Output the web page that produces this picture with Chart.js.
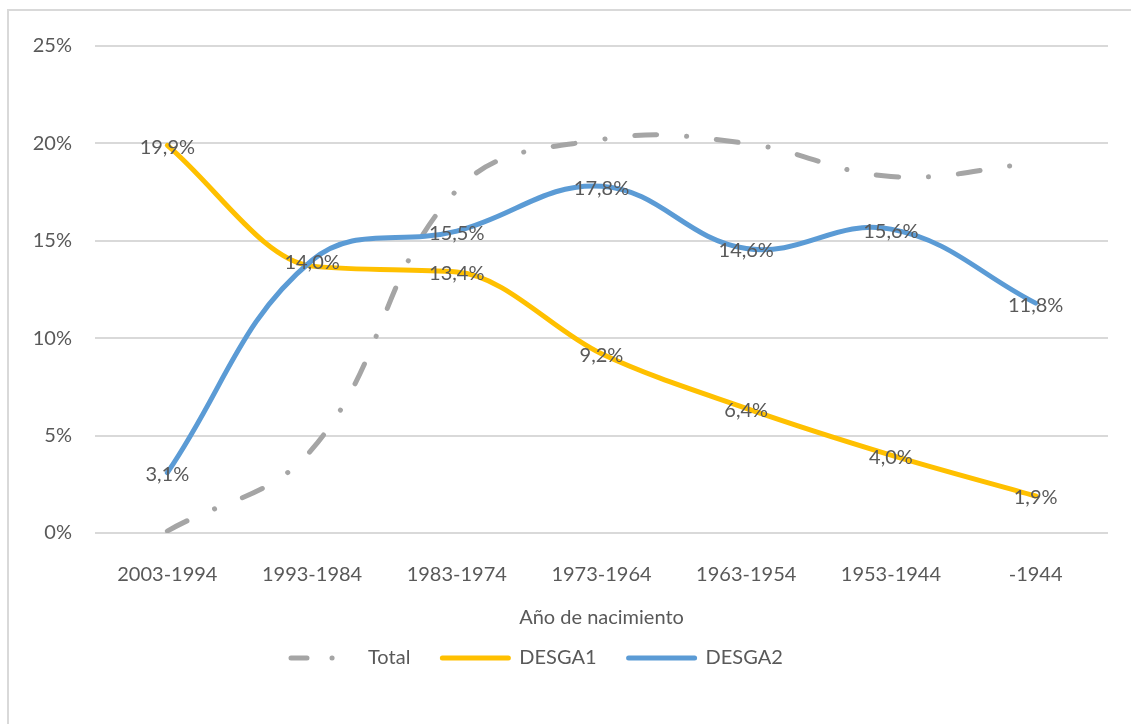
<!DOCTYPE html>
<html lang="es">
<head>
<meta charset="utf-8">
<script src="https://cdn.jsdelivr.net/npm/chart.js@4.4.1/dist/chart.umd.min.js"></script>
<style>
    html, body { margin: 0; padding: 0; background: #fff; overflow: hidden; }
    #marco {
        position: absolute; left: 7px; top: 9px; width: 1200px; height: 800px;
        border-left: 2px solid #d9d9d9; border-top: 2px solid #d9d9d9;
    }
    #grafico { position: absolute; left: 0; top: 0; }
</style>
</head>
<body>
<div id="marco"></div>
<canvas id="grafico" width="1131" height="724"></canvas>
<script>
const categorias = ["2003-1994", "1993-1984", "1983-1974", "1973-1964", "1963-1954", "1953-1944", "-1944"];
const total = [0.1, 4.3, 17.6, 20.2, 20.0, 18.3, 19.0];
const desga1 = [19.9, 13.7, 13.4, 9.2, 6.4, 4.0, 1.9];
const desga2 = [3.1, 14.0, 15.5, 17.8, 14.6, 15.6, 11.8];
const ticksY = [0, 5, 10, 15, 20, 25];

const GRIS_TEXTO = "#595959";
const FUENTE = "Lato";

function formato(v) {
    return v.toFixed(1).replace(".", ",") + "%";
}

// etiquetas de datos centradas sobre cada punto
const etiquetas = {
    id: "etiquetas",
    afterDatasetsDraw(chart) {
        const ctx = chart.ctx;
        ctx.save();
        ctx.font = `20px ${FUENTE}`;
        ctx.fillStyle = GRIS_TEXTO;
        ctx.textAlign = "center";
        ctx.textBaseline = "middle";
        chart.data.datasets.forEach((ds, i) => {
            if (!ds.conEtiquetas) return;
            const meta = chart.getDatasetMeta(i);
            meta.data.forEach((p, j) => {
                if ((ds.sinEtiqueta || []).includes(j)) return;
                ctx.fillText(formato(ds.data[j]), p.x, p.y + 2);
            });
        });
        ctx.restore();
    }
};

// leyenda abajo, como en Excel
const leyenda = {
    id: "leyenda",
    afterDraw(chart) {
        const ctx = chart.ctx;
        const muestra = 72, hueco = 8, sep = 29;
        let x = 288;
        const y = 658;
        ctx.save();
        ctx.font = `20px ${FUENTE}`;
        chart.data.datasets.forEach(ds => {
            ctx.beginPath();
            ctx.strokeStyle = ds.borderColor;
            ctx.lineWidth = ds.borderWidth;
            ctx.lineCap = "round";
            ctx.setLineDash(ds.dashLeyenda || []);
            ctx.moveTo(x + 3, y);
            ctx.lineTo(x + muestra - 3, y);
            ctx.stroke();
            ctx.setLineDash([]);
            ctx.fillStyle = GRIS_TEXTO;
            ctx.textAlign = "left";
            ctx.textBaseline = "middle";
            ctx.fillText(ds.label, x + muestra + hueco, y);
            x += muestra + hueco + ctx.measureText(ds.label).width + sep;
        });
        ctx.restore();
    }
};

new Chart(document.getElementById("grafico"), {
    type: "line",
    data: {
        labels: categorias,
        datasets: [
            {
                label: "Total", data: total, order: 3,
                borderColor: "#a5a5a5", borderWidth: 5,
                borderDash: [22, 30, 0.1, 30], borderCapStyle: "round",
                dashLeyenda: [16, 25, 0.1, 40],
                pointRadius: 0, tension: 0.4, fill: false
            },
            {
                label: "DESGA1", data: desga1, order: 2,
                borderColor: "#ffc000", borderWidth: 5, borderCapStyle: "round",
                cubicInterpolationMode: "monotone",
                pointRadius: 0, tension: 0.4, fill: false,
                conEtiquetas: true, sinEtiqueta: [1]
            },
            {
                label: "DESGA2", data: desga2, order: 1,
                borderColor: "#5b9bd5", borderWidth: 5, borderCapStyle: "round",
                pointRadius: 0, tension: 0.4, fill: false,
                conEtiquetas: true
            }
        ]
    },
    options: {
        responsive: false,
        animation: false,
        layout: { padding: { top: 46, right: 23, bottom: 84, left: 0 } },
        plugins: {
            legend: { display: false },
            tooltip: { enabled: false }
        },
        scales: {
            x: {
                offset: true,
                grid: { display: false },
                border: { display: false },
                ticks: { color: GRIS_TEXTO, font: { family: FUENTE, size: 20 }, padding: 22, maxRotation: 0 },
                title: {
                    display: true, text: "Año de nacimiento", color: GRIS_TEXTO,
                    font: { family: FUENTE, size: 20 }, padding: { top: 0, bottom: 10 }
                },
                afterFit(s) { s.height = 107; }
            },
            y: {
                min: 0, max: 25,
                afterBuildTicks(s) { s.ticks = ticksY.map(v => ({ value: v })); },
                grid: { color: "#d9d9d9", lineWidth: 2, drawTicks: false },
                border: { display: false },
                ticks: { color: GRIS_TEXTO, font: { family: FUENTE, size: 20 }, padding: 23, callback: v => v + "%" },
                afterFit(s) { s.width = 95; }
            }
        }
    },
    plugins: [etiquetas, leyenda]
});
</script>
</body>
</html>
